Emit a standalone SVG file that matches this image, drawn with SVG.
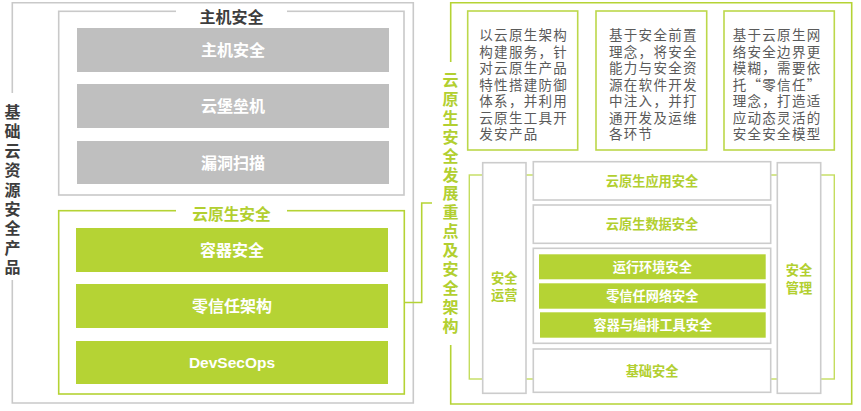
<svg xmlns="http://www.w3.org/2000/svg" width="861" height="411" viewBox="0 0 861 411">
<style>
.gframe{fill:none;stroke:#c9c9c9;stroke-width:1.6}
.lframe{fill:none;stroke:#b5d334;stroke-width:1.6}
.lthin{fill:none;stroke:#c4dd5e;stroke-width:1.4}
.gbox{fill:#bfbfbf}
.grn{fill:#b5d334}
.wbox{fill:#ffffff;stroke:#cccccc;stroke-width:1.6}
.tbox{fill:#ffffff;stroke:#bcd84a;stroke-width:1.6}
.t{font-family:"Noto Sans CJK SC","Liberation Sans",sans-serif;font-weight:bold;text-anchor:middle}
.v{font-family:"Noto Sans CJK SC","Liberation Sans",sans-serif;font-weight:bold;font-size:16px;writing-mode:vertical-rl;text-orientation:upright}
.w16{fill:#ffffff;font-size:16px}
.w13{fill:#ffffff;font-size:13.2px}
.g13{fill:#b2cf30;font-size:13.2px}
.dark{fill:#3d3d3d}
.green{fill:#b2cf30}
.para{font-family:"Noto Sans CJK SC","Liberation Sans",sans-serif;font-size:13.5px;letter-spacing:1.3px;fill:#5a5a5a}
</style>
<rect width="861" height="411" fill="#ffffff"/>

<g id="left-frame">
<path class="gframe" d="M12.3,93 V2.7 H413.3 V403 H12.3 V280"/>
<text class="v dark" x="12.5" y="104" letter-spacing="3.4">基础云资源安全产品</text>
</g>

<g id="host-security">
<rect class="gframe" x="58.7" y="11.3" width="345.3" height="183.7"/>
<rect x="176" y="4" width="111" height="22" fill="#ffffff"/>
<text class="t dark" font-size="16" x="231.5" y="23">主机安全</text>
</g>
<g id="host-1"><rect class="gbox" x="77" y="28" width="312" height="44"/><text class="t w16" x="233" y="56">主机安全</text></g>
<g id="host-2"><rect class="gbox" x="77" y="84" width="312" height="44"/><text class="t w16" x="233" y="112">云堡垒机</text></g>
<g id="host-3"><rect class="gbox" x="77" y="141" width="312" height="43"/><text class="t w16" x="233" y="168.5">漏洞扫描</text></g>

<g id="cloud-native-security">
<rect class="lframe" x="58.7" y="210.7" width="345.6" height="183.3"/>
<rect x="176" y="203" width="111" height="25" fill="#ffffff"/>
<text class="t green" font-size="15.7" x="231.5" y="220">云原生安全</text>
</g>
<g id="cn-1"><rect class="grn" x="76" y="228" width="312" height="44"/><text class="t w16" x="232" y="256">容器安全</text></g>
<g id="cn-2"><rect class="grn" x="76" y="284" width="312" height="44"/><text class="t w16" x="232" y="312">零信任架构</text></g>
<g id="cn-3"><rect class="grn" x="76" y="341" width="312" height="43"/><text x="232" y="368" font-family="'Liberation Sans',Arial,sans-serif" font-weight="bold" font-size="15.5" fill="#ffffff" text-anchor="middle">DevSecOps</text></g>

<g id="connectors">
<path d="M404.3,302.5 H421.7 V203 H432" fill="none" stroke="#b5d334" stroke-width="1.6"/>
</g>

<g id="right-frame">
<path class="lframe" d="M450.7,62 V2.7 H851.7 V404 H450.7 V345"/>
<text class="v green" x="450.5" y="72" letter-spacing="2.9">云原生安全发展重点及安全架构</text>
</g>

<g id="desc-1">
<rect class="tbox" x="467.7" y="11" width="110" height="139"/>
<text class="para"><tspan x="479.3" y="40">以云原生架构</tspan><tspan x="479.3" y="56.5">构建服务，针</tspan><tspan x="479.3" y="73">对云原生产品</tspan><tspan x="479.3" y="89.5">特性搭建防御</tspan><tspan x="479.3" y="106">体系，并利用</tspan><tspan x="479.3" y="122.5">云原生工具开</tspan><tspan x="479.3" y="139">发安产品</tspan></text>
</g>
<g id="desc-2">
<rect class="tbox" x="596" y="11" width="110.7" height="139"/>
<text class="para"><tspan x="609" y="40">基于安全前置</tspan><tspan x="609" y="56.5">理念，将安全</tspan><tspan x="609" y="73">能力与安全资</tspan><tspan x="609" y="89.5">源在软件开发</tspan><tspan x="609" y="106">中注入，并打</tspan><tspan x="609" y="122.5">通开发及运维</tspan><tspan x="609" y="139">各环节</tspan></text>
</g>
<g id="desc-3">
<rect class="tbox" x="724" y="11" width="110.3" height="139"/>
<text class="para"><tspan x="732.7" y="40">基于云原生网</tspan><tspan x="732.7" y="56.5">络安全边界更</tspan><tspan x="732.7" y="73">模糊，需要依</tspan><tspan x="732.7" y="89.5">托“零信任”</tspan><tspan x="732.7" y="106">理念，打造适</tspan><tspan x="732.7" y="122.5">应动态灵活的</tspan><tspan x="732.7" y="139">安全安全模型</tspan></text>
</g>

<g id="arch-frame">
<rect class="lthin" x="469.3" y="175" width="365" height="204"/>
</g>
<g id="ops"><rect class="wbox" x="482.7" y="162.7" width="43.3" height="230.6"/><text class="t g13" font-size="13"><tspan x="504.3" y="282.5">安全</tspan><tspan x="504.3" y="300">运营</tspan></text></g>
<g id="mgmt"><rect class="wbox" x="777.3" y="162.7" width="43.4" height="230.6"/><text class="t g13" font-size="13"><tspan x="799" y="275">安全</tspan><tspan x="799" y="292.5">管理</tspan></text></g>
<g id="app-sec"><rect class="wbox" x="533.3" y="161.7" width="237.4" height="38.3"/><text class="t g13" x="652" y="186">云原生应用安全</text></g>
<g id="data-sec"><rect class="wbox" x="533.3" y="205" width="237.4" height="38.3"/><text class="t g13" x="652" y="229">云原生数据安全</text></g>
<g id="container-group"><rect class="wbox" x="533.3" y="248.3" width="237.4" height="95"/></g>
<g id="runtime"><rect class="grn" x="539" y="254.3" width="226.7" height="25"/><text class="t w13" x="652.3" y="271.5">运行环境安全</text></g>
<g id="zt-net"><rect class="grn" x="539" y="283.3" width="226.7" height="25.4"/><text class="t w13" x="652.3" y="300.7">零信任网络安全</text></g>
<g id="orch"><rect class="grn" x="540" y="312.3" width="225.7" height="25.4"/><text class="t w13" x="652.8" y="329.7">容器与编排工具安全</text></g>
<g id="base-sec"><rect class="wbox" x="533.3" y="349" width="237.4" height="43.3"/><text class="t g13" x="652" y="375.5">基础安全</text></g>
</svg>
